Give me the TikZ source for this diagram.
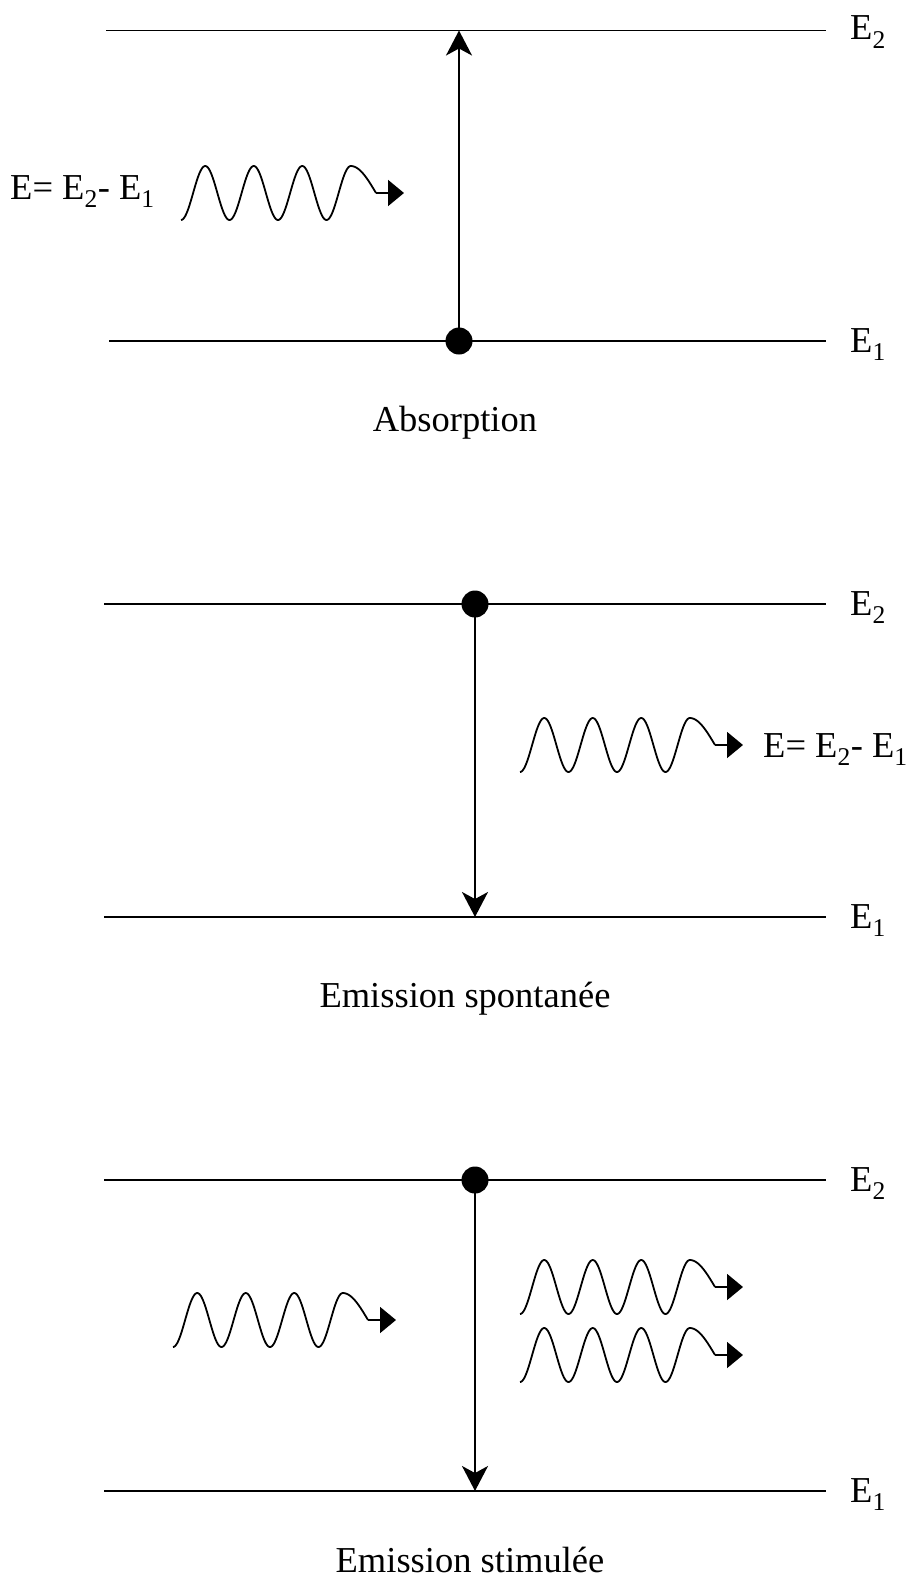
\documentclass[tikz,border=0pt]{standalone}
\usepackage{fontspec}
\setmainfont{Liberation Serif}
\usetikzlibrary{arrows.meta}
\tikzset{
  level/.style={line width=1.9pt},
  trans/.style={line width=1.9pt, -{Stealth[length=25pt,width=26pt,inset=7pt]}},
  dot/.style={circle, fill=black, inner sep=0pt, minimum size=27pt},
  lbl/.style={font=\fontsize{36.5}{42}\selectfont, inner sep=0pt},
  photon/.pic={
    \draw[line width=1.8pt, line join=round]
      plot[domain=0:169.75, samples=160, smooth] ({\x},{-27+27*cos(7.4227*\x)})
      -- plot[domain=169.75:195, samples=30, smooth] ({\x},{-27-27*cos(3.5644*(\x-169.75))});
    \draw[line width=1.8pt, -{Triangle[length=16pt,width=26pt]}] (195,-27) -- (223,-27);
  }
}
\begin{document}
\begin{tikzpicture}[x=1pt,y=-1pt]
\useasboundingbox (0,0) rectangle (910,1584);
% Panel 1 : Absorption
\coordinate (a2l) at (106,30.5); \coordinate (a2r) at (826,30.5);
\coordinate (a1l) at (109,341); \coordinate (a1r) at (826,341);
\draw[level] (a2l) -- (a2r);
\draw[level] (a1l) -- (a1r);
\coordinate (a2) at (459,30.5);
\node[dot] (ad) at (459,341) {};
\draw[trans] (ad.center) -- (a2);
\node[lbl, anchor=base west] (aE2) at (850,40) {E\textsubscript{2}};
\node[lbl, anchor=base west] (aE1) at (850,352) {E\textsubscript{1}};
\node[lbl, anchor=base west] (aE) at (10,199) {E= E\textsubscript{2}- E\textsubscript{1}};
\pic at (181,220) {photon};
\node[lbl, anchor=base] (abs) at (455,431) {Absorption};
% Panel 2 : Emission spontanee
\coordinate (b2l) at (104,604); \coordinate (b2r) at (826,604);
\coordinate (b1l) at (104,917); \coordinate (b1r) at (826,917);
\draw[level] (b2l) -- (b2r);
\draw[level] (b1l) -- (b1r);
\node[dot] (bd) at (475,604) {};
\coordinate (b1) at (475,917);
\draw[trans] (bd.center) -- (b1);
\node[lbl, anchor=base west] (bE2) at (850,615) {E\textsubscript{2}};
\node[lbl, anchor=base west] (bE1) at (850,928) {E\textsubscript{1}};
\pic at (520,772) {photon};
\node[lbl, anchor=base west] (bE) at (763,757) {E= E\textsubscript{2}- E\textsubscript{1}};
\node[lbl, anchor=base] (spo) at (465,1007) {Emission spontanée};
% Panel 3 : Emission stimulee
\coordinate (c2l) at (104,1180); \coordinate (c2r) at (826,1180);
\coordinate (c1l) at (104,1491); \coordinate (c1r) at (826,1491);
\draw[level] (c2l) -- (c2r);
\draw[level] (c1l) -- (c1r);
\node[dot] (cd) at (475,1180) {};
\coordinate (c1) at (475,1491);
\draw[trans] (cd.center) -- (c1);
\node[lbl, anchor=base west] (cE2) at (850,1191) {E\textsubscript{2}};
\node[lbl, anchor=base west] (cE1) at (850,1502) {E\textsubscript{1}};
\pic at (173,1347) {photon};
\pic at (520,1314) {photon};
\pic at (520,1382) {photon};
\node[lbl, anchor=base] (sti) at (470,1572) {Emission stimulée};
\end{tikzpicture}
\end{document}
